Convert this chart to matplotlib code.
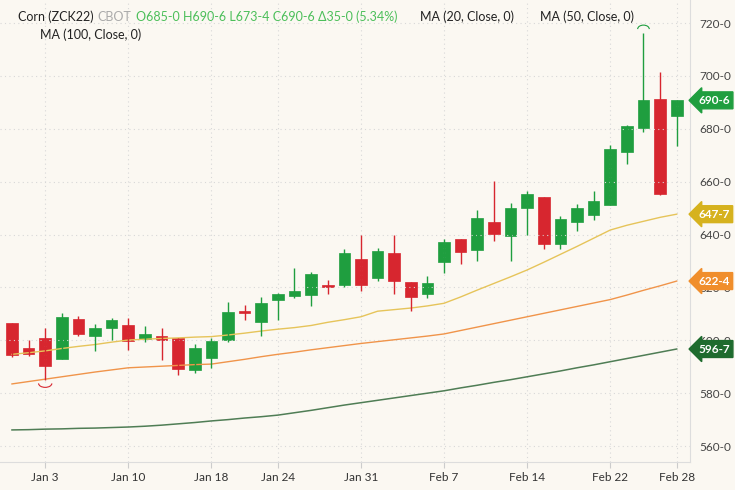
import matplotlib.pyplot as plt
from matplotlib.patches import Arc

# trading days Dec 30 .. Feb 28
opens  = [606.5, 597, 601, 593, 608, 601.6, 604.6, 605.8, 600.5, 601.6,
          600.9, 588.7, 593.3, 600, 611.1, 606.9, 615.2, 616.7, 617.1, 621,
          620.9, 630.7, 623.6, 633, 622, 617.5, 629.6, 638.3, 634.1, 644.7,
          639.4, 650, 654.2, 636.4, 644.7, 647.4, 651.2, 671.2, 680.3, 691.3, 685]
closes = [594.4, 595, 590.3, 608.8, 602.4, 604.6, 607.7, 599.7, 602.4, 600,
          589, 597, 599.7, 610.7, 610.2, 614.1, 617.5, 618.6, 625.1, 620.2,
          633, 620.9, 633.8, 622.4, 616.4, 621.7, 637.2, 633.4, 646.2, 640.2,
          650, 655.3, 636.4, 645.9, 650, 652.7, 672.3, 681, 690.9, 655.3, 690.75]
highs  = [606.5, 600, 604.6, 610.3, 609, 606, 608.4, 608.4, 605.4, 604.6,
          600.9, 598.6, 600.9, 614.5, 613.5, 616.5, 617.9, 627.5, 626, 622.8,
          634.5, 640, 635, 640, 622, 624.3, 638.3, 638.3, 649.3, 660.2,
          651.9, 656.4, 654.2, 647, 651.5, 656.5, 674, 681.5, 716.2, 701.5, 690.75]
lows   = [593.5, 594, 585, 593, 601.5, 596, 600, 596.5, 599.5, 592.5,
          586.9, 587.6, 589.5, 599.4, 607.5, 601.5, 607.7, 616, 613, 617.5,
          620, 618.5, 622.5, 617.5, 611.1, 616, 625.5, 628.8, 630, 637.5,
          630, 640, 634.5, 634.5, 641.5, 645.5, 651.2, 666.5, 678.8, 655, 673.5]

ma20  = [594.7, 595.3, 596, 596.9, 597.7, 598.4, 599.3, 600.1, 600.4, 600.7,
         600.9, 601.2, 601.4, 602, 602.7, 603.5, 604.2, 604.8, 605.6, 606.8,
         607.8, 608.9, 611, 611.6, 612.2, 613, 614, 616.4, 619, 621.5,
         624, 626.6, 629.5, 632.5, 635.5, 638.6, 641.7, 643.5, 645, 646.5, 647.7]
ma50  = [583.5, 584.4, 585.3, 586.2, 587.1, 588, 588.8, 589.6, 589.9, 590.2,
         590.5, 590.8, 591, 591.9, 592.8, 593.8, 594.7, 595.5, 596.4, 597.2,
         598, 598.8, 599.5, 600.2, 600.9, 601.6, 602.4, 603.7, 605, 606.3,
         607.6, 608.9, 610.2, 611.5, 612.8, 614.1, 615.4, 617.1, 618.9, 620.6, 622.4]
ma100 = [566.1, 566.2, 566.4, 566.5, 566.7, 566.8, 567, 567.2, 567.5, 567.9,
         568.4, 568.9, 569.5, 570, 570.6, 571.1, 571.7, 572.6, 573.5, 574.5,
         575.5, 576.4, 577.3, 578.2, 579.1, 580, 580.9, 582, 583, 584.1,
         585.1, 586.2, 587.3, 588.4, 589.6, 590.7, 591.9, 593.1, 594.3, 595.5, 596.7]

tick_pos = [2, 7, 12, 16, 21, 26, 31, 36, 40]
tick_labels = ["Jan 3", "Jan 10", "Jan 18", "Jan 24", "Jan 31", "Feb 7", "Feb 14", "Feb 22", "Feb 28"]
yticks = [560, 580, 600, 620, 640, 660, 680, 700, 720]

green = "#1f9e3f"
red = "#d7262f"
bg = "#fbf8f2"
plt.rcParams["font.family"] = "Lato"

fig = plt.figure(figsize=(7.35, 4.9), dpi=100, facecolor=bg)
ax = fig.add_axes([0, 28/490, 690/735, 462/490], facecolor=bg)

x = list(range(len(opens)))
ax.plot(x, ma100, color="#4f7d55", lw=1.1)
ax.plot(x, ma50, color="#f0944a", lw=1.0)
ax.plot(x, ma20, color="#e6c45a", lw=1.0)

for i in x:
    c = green if closes[i] >= opens[i] else red
    ax.vlines(i, lows[i], highs[i], color=c, lw=1)
    lo = min(opens[i], closes[i])
    h = max(abs(closes[i] - opens[i]), 0.5)
    ax.bar(i, h, bottom=lo, width=0.7, color=c, edgecolor=c, lw=0.5)

# high / low markers
ax.add_patch(Arc((38, highs[38] + 1.5), 0.7, 3, theta1=0, theta2=180, color=green, lw=0.8))
ax.add_patch(Arc((2, lows[2] - 1.3), 0.8, 3, theta1=180, theta2=360, color=red, lw=0.8))

ax.set_xlim(-0.72, 40.8)
ax.set_ylim(553.97, 728.7)
ax.set_xticks(tick_pos)
ax.set_xticklabels(tick_labels, fontsize=8.5, color="#333333")
ax.set_yticks(yticks)
ax.set_yticklabels([f"{v}-0" for v in yticks], fontsize=8.5, color="#444444")
ax.yaxis.tick_right()
ax.tick_params(axis="both", length=4, color="#cccccc", pad=3)
ax.tick_params(axis="y", length=0, pad=7)
ax.grid(True, color="#d8d8d8", ls=(0, (1, 3)), lw=0.8)
for s in ["top", "left"]:
    ax.spines[s].set_visible(False)
for s in ["bottom", "right"]:
    ax.spines[s].set_color("#dddddd")

# last value badges
badges = [(closes[-1], "690-6", green), (ma20[-1], "647-7", "#d6b21e"),
          (ma50[-1], "622-4", "#f08e2c"), (ma100[-1], "596-7", "#1e6b2e")]
for v, t, c in badges:
    ax.annotate(t, xy=(1, v), xycoords=("axes fraction", "data"), xytext=(6, 0),
                textcoords="offset points", va="center", ha="left", fontsize=8.5,
                color="white", fontweight="bold", zorder=5,
                bbox=dict(boxstyle="larrow,pad=0.25", fc=c, ec=c))

# header
fig.text(18/735, 1 - 17/490, "Corn (ZCK22)", fontsize=9, color="#222222", va="center")
fig.text(97/735, 1 - 17/490, "CBOT", fontsize=9, color="#aaaaaa", va="center")
fig.text(136/735, 1 - 17/490, "O685-0 H690-6 L673-4 C690-6 Δ35-0 (5.34%)", fontsize=9,
         color="#4cbf5a", va="center")
fig.text(420/735, 1 - 17/490, "MA (20, Close, 0)", fontsize=9, color="#222222", va="center")
fig.text(540/735, 1 - 17/490, "MA (50, Close, 0)", fontsize=9, color="#222222", va="center")
fig.text(40/735, 1 - 35/490, "MA (100, Close, 0)", fontsize=9, color="#222222", va="center")

fig.savefig("out.png", dpi=100, facecolor=bg)
